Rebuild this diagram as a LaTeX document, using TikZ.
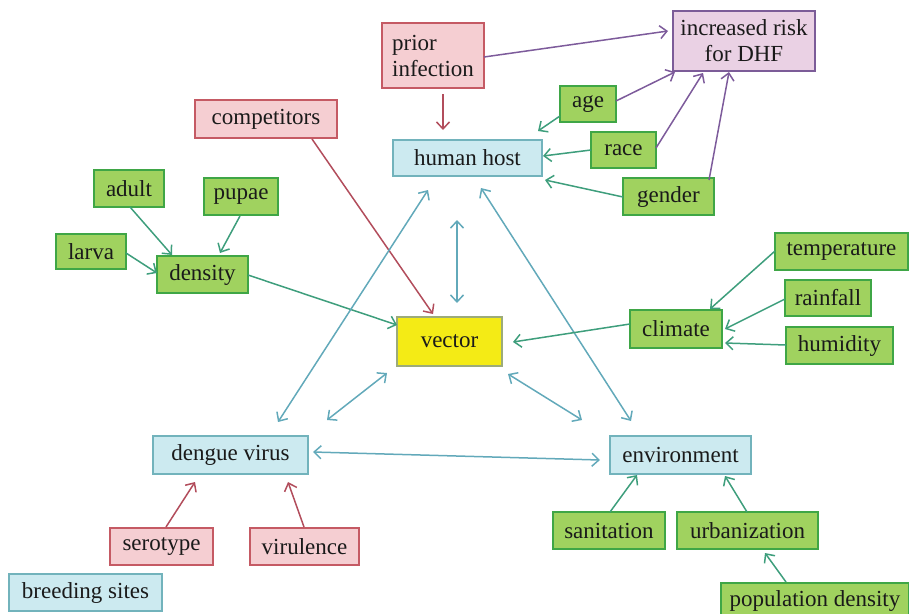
\documentclass[tikz,border=0pt]{standalone}
\usepackage{fontspec}
\setmainfont{Liberation Serif}
\newfontfamily\tmsfont{Liberation Serif}
\usetikzlibrary{arrows.meta,calc}
\definecolor{gfill}{HTML}{A0D25F}
\definecolor{gline}{HTML}{3FA646}
\definecolor{pfill}{HTML}{F5CED2}
\definecolor{pline}{HTML}{C55A64}
\definecolor{bfill}{HTML}{CCEAF0}
\definecolor{bline}{HTML}{72B3BC}
\definecolor{vfill}{HTML}{EAD1E4}
\definecolor{vline}{HTML}{7C5C98}
\definecolor{yfill}{HTML}{F4EB15}
\definecolor{yline}{HTML}{9CAB7A}
\definecolor{apur}{HTML}{7D5B9B}
\definecolor{ared}{HTML}{B24D5C}
\definecolor{agrn}{HTML}{3E9E7C}
\definecolor{ablu}{HTML}{62A9BA}
\definecolor{txt}{HTML}{1A1A1A}
\tikzset{
  box/.style={draw, line width=1.5pt, inner sep=0pt, align=center, text=txt,
    font=\tmsfont\fontsize{23}{26}\selectfont},
  sz/.style 2 args={minimum width=#1pt, minimum height=#2pt},
  gbox/.style={box, fill=gfill, draw=gline},
  pbox/.style={box, fill=pfill, draw=pline},
  bbox/.style={box, fill=bfill, draw=bline},
  vbox/.style={box, fill=vfill, draw=vline},
  ybox/.style={box, fill=yfill, draw=yline},
  conn/.style={line width=1.5pt, -{Straight Barb[length=7pt,width=13pt,line width=1.5pt]}},
  dconn/.style={line width=1.5pt, {Straight Barb[length=7pt,width=13pt,line width=1.5pt]}-{Straight Barb[length=7pt,width=13pt,line width=1.5pt]}},
  parr/.style={conn, draw=apur},
  rarr/.style={conn, draw=ared},
  garr/.style={conn, draw=agrn},
  barr/.style={dconn, draw=ablu},
}
\begin{document}
\begin{tikzpicture}[x=1pt, y=-1pt]
\useasboundingbox (0,0) rectangle (909,613);
% nodes
\node[pbox, sz={102}{65}, align=left] (prior) at (433,55.5) {prior\\infection};
\node[vbox, sz={142}{60}] (risk) at (744,41) {increased risk\\for DHF};
\node[bbox, sz={149}{36}] (hh) at (467.5,158) {human host};
\node[pbox, sz={142}{38}] (comp) at (266,119) {competitors};
\node[gbox, sz={56}{36}] (age) at (588,104) {age};
\node[gbox, sz={65}{36}] (race) at (623.5,150) {race};
\node[gbox, sz={91}{37}] (gender) at (668.5,196.5) {gender};
\node[gbox, sz={70}{37}] (adult) at (129,188.5) {adult};
\node[gbox, sz={74}{37}] (pupae) at (241,196.5) {pupae};
\node[gbox, sz={70}{35}] (larva) at (91,251.5) {larva};
\node[gbox, sz={91}{37}] (density) at (202.5,274.5) {density};
\node[gbox, sz={133}{37}] (temp) at (841.5,251.5) {temperature};
\node[gbox, sz={86}{36}] (rain) at (828,298) {rainfall};
\node[gbox, sz={92}{38}] (climate) at (676,329) {climate};
\node[gbox, sz={107}{37}] (humid) at (839.5,345.5) {humidity};
\node[ybox, sz={105}{49}] (vector) at (449.5,341.5) {vector};
\node[bbox, sz={155}{38}] (dv) at (230.5,455) {dengue virus};
\node[bbox, sz={141}{38}] (env) at (680.5,455) {environment};
\node[pbox, sz={103}{37}] (sero) at (161.5,546.5) {serotype};
\node[pbox, sz={109}{37}] (viru) at (304.5,546.5) {virulence};
\node[bbox, sz={153}{37}] (breed) at (85.5,592.5) {breeding sites};
\node[gbox, sz={112}{37}] (sani) at (609,530.5) {sanitation};
\node[gbox, sz={141}{37}] (urban) at (747.5,530.5) {urbanization};
\node[gbox, sz={188}{36}] (popd) at (815,601) {population density};
% connectors
\draw[parr] ($(prior)+(51,1.5)$) -- ($(risk)+(-76,-10)$);
\draw[rarr] ($(prior)+(10,38.5)$) -- ($(hh)+(-24.5,-28)$);
\draw[parr] ($(age)+(28,-3)$) -- ($(risk)+(-69,31)$);
\draw[garr] ($(age)+(-28,12)$) -- ($(hh)+(70.5,-27)$);
\draw[parr] ($(race)+(32.5,-2)$) -- ($(risk)+(-41,32)$);
\draw[garr] ($(race)+(-32.5,0)$) -- ($(hh)+(75.5,-2)$);
\draw[parr] ($(gender)+(40.5,-16.5)$) -- ($(risk)+(-15,31)$);
\draw[garr] ($(gender)+(-45.5,0.5)$) -- ($(hh)+(77.5,22)$);
\draw[rarr] ($(comp)+(46,20)$) -- ($(vector)+(-16.5,-27.5)$);
\draw[garr] ($(adult)+(1,18.5)$) -- ($(density)+(-30.5,-19.5)$);
\draw[garr] ($(pupae)+(-1,19.5)$) -- ($(density)+(17.5,-21.5)$);
\draw[garr] ($(larva)+(35,1.5)$) -- ($(density)+(-45.5,-1.5)$);
\draw[garr] ($(density)+(45.5,0.5)$) -- ($(vector)+(-52.5,-16.5)$);
\draw[barr] ($(hh)+(-10.5,62)$) -- ($(vector)+(7.5,-38.5)$);
\draw[barr] ($(hh)+(-39.5,32)$) -- ($(dv)+(47.5,-33)$);
\draw[barr] ($(hh)+(13.5,30)$) -- ($(env)+(-49.5,-34)$);
\draw[barr] ($(vector)+(-62.5,31.5)$) -- ($(dv)+(96.5,-35)$);
\draw[barr] ($(vector)+(58.5,32.5)$) -- ($(env)+(-98.5,-35)$);
\draw[garr] ($(climate)+(-46,-5)$) -- ($(vector)+(63.5,0.5)$);
\draw[garr] ($(temp)+(-66.5,-0.5)$) -- ($(climate)+(34,-20)$);
\draw[garr] ($(rain)+(-43,1)$) -- ($(climate)+(49,0)$);
\draw[garr] ($(humid)+(-53.5,-0.5)$) -- ($(climate)+(49,14)$);
\draw[barr] ($(env)+(-80.5,5)$) -- ($(dv)+(82.5,-3)$);
\draw[rarr] ($(sero)+(4.5,-19.5)$) -- ($(dv)+(-35.5,27)$);
\draw[rarr] ($(viru)+(-0.5,-19.5)$) -- ($(dv)+(57.5,27)$);
\draw[garr] ($(sani)+(1,-18.5)$) -- ($(env)+(-43.5,20)$);
\draw[garr] ($(urban)+(-0.5,-18.5)$) -- ($(env)+(44.5,21)$);
\draw[garr] ($(popd)+(-29,-19)$) -- ($(urban)+(17.5,22.5)$);
\end{tikzpicture}
\end{document}
